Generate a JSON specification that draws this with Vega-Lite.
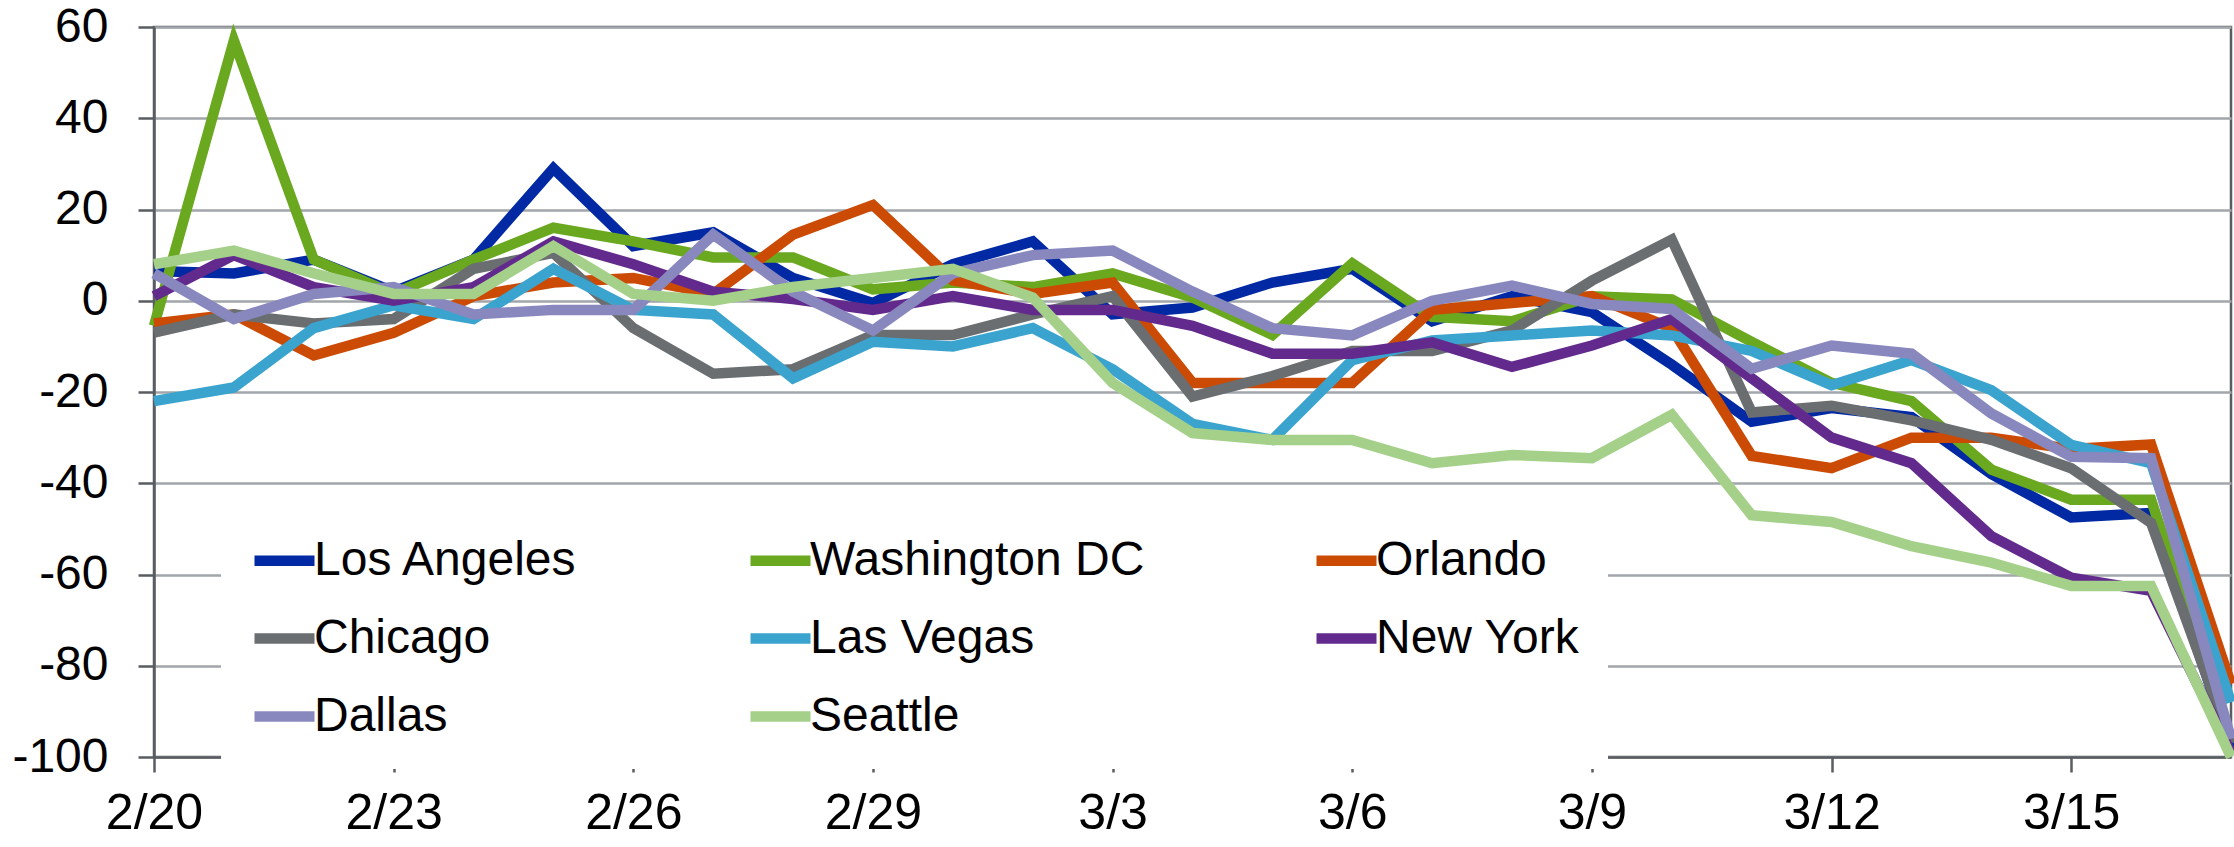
{
  "$schema": "https://vega.github.io/schema/vega-lite/v6.json",
  "width": 2077,
  "height": 730,
  "autosize": {"type": "none"},
  "padding": {"left": 154, "top": 27, "right": 3, "bottom": 90},
  "background": "white",
  "config": {
    "view": {"stroke": "#595D61", "strokeWidth": 2.5},
    "font": "Liberation Sans"
  },
  "datasets": {
    "series": [
      {"date":"2020-02-20","city":"Los Angeles","value":6.5},{"date":"2020-02-21","city":"Los Angeles","value":6},{"date":"2020-02-22","city":"Los Angeles","value":9},{"date":"2020-02-23","city":"Los Angeles","value":2},{"date":"2020-02-24","city":"Los Angeles","value":9},{"date":"2020-02-25","city":"Los Angeles","value":29},{"date":"2020-02-26","city":"Los Angeles","value":12},{"date":"2020-02-27","city":"Los Angeles","value":15},{"date":"2020-02-28","city":"Los Angeles","value":5},{"date":"2020-02-29","city":"Los Angeles","value":-0.5},{"date":"2020-03-01","city":"Los Angeles","value":8},{"date":"2020-03-02","city":"Los Angeles","value":13},{"date":"2020-03-03","city":"Los Angeles","value":-3},{"date":"2020-03-04","city":"Los Angeles","value":-1.5},{"date":"2020-03-05","city":"Los Angeles","value":4},{"date":"2020-03-06","city":"Los Angeles","value":7},{"date":"2020-03-07","city":"Los Angeles","value":-4.5},{"date":"2020-03-08","city":"Los Angeles","value":1},{"date":"2020-03-09","city":"Los Angeles","value":-2.5},{"date":"2020-03-10","city":"Los Angeles","value":-14},{"date":"2020-03-11","city":"Los Angeles","value":-26.5},{"date":"2020-03-12","city":"Los Angeles","value":-23.5},{"date":"2020-03-13","city":"Los Angeles","value":-25.5},{"date":"2020-03-14","city":"Los Angeles","value":-38},{"date":"2020-03-15","city":"Los Angeles","value":-47.5},{"date":"2020-03-16","city":"Los Angeles","value":-46.5},{"date":"2020-03-17","city":"Los Angeles","value":-98},
      {"date":"2020-02-20","city":"Washington DC","value":-5.5},{"date":"2020-02-21","city":"Washington DC","value":57},{"date":"2020-02-22","city":"Washington DC","value":9},{"date":"2020-02-23","city":"Washington DC","value":1.5},{"date":"2020-02-24","city":"Washington DC","value":9},{"date":"2020-02-25","city":"Washington DC","value":16},{"date":"2020-02-26","city":"Washington DC","value":13},{"date":"2020-02-27","city":"Washington DC","value":9.5},{"date":"2020-02-28","city":"Washington DC","value":9.5},{"date":"2020-02-29","city":"Washington DC","value":2.5},{"date":"2020-03-01","city":"Washington DC","value":4},{"date":"2020-03-02","city":"Washington DC","value":3},{"date":"2020-03-03","city":"Washington DC","value":6},{"date":"2020-03-04","city":"Washington DC","value":0.7},{"date":"2020-03-05","city":"Washington DC","value":-7.5},{"date":"2020-03-06","city":"Washington DC","value":8.2},{"date":"2020-03-07","city":"Washington DC","value":-3.5},{"date":"2020-03-08","city":"Washington DC","value":-4.5},{"date":"2020-03-09","city":"Washington DC","value":1},{"date":"2020-03-10","city":"Washington DC","value":0.3},{"date":"2020-03-11","city":"Washington DC","value":-9},{"date":"2020-03-12","city":"Washington DC","value":-18},{"date":"2020-03-13","city":"Washington DC","value":-22},{"date":"2020-03-14","city":"Washington DC","value":-37},{"date":"2020-03-15","city":"Washington DC","value":-43.6},{"date":"2020-03-16","city":"Washington DC","value":-43.6},{"date":"2020-03-17","city":"Washington DC","value":-97},
      {"date":"2020-02-20","city":"Orlando","value":-5},{"date":"2020-02-21","city":"Orlando","value":-3},{"date":"2020-02-22","city":"Orlando","value":-12},{"date":"2020-02-23","city":"Orlando","value":-7},{"date":"2020-02-24","city":"Orlando","value":1},{"date":"2020-02-25","city":"Orlando","value":4},{"date":"2020-02-26","city":"Orlando","value":5},{"date":"2020-02-27","city":"Orlando","value":1.5},{"date":"2020-02-28","city":"Orlando","value":14.5},{"date":"2020-02-29","city":"Orlando","value":21},{"date":"2020-03-01","city":"Orlando","value":4.5},{"date":"2020-03-02","city":"Orlando","value":1.5},{"date":"2020-03-03","city":"Orlando","value":4},{"date":"2020-03-04","city":"Orlando","value":-18},{"date":"2020-03-05","city":"Orlando","value":-18},{"date":"2020-03-06","city":"Orlando","value":-18},{"date":"2020-03-07","city":"Orlando","value":-2},{"date":"2020-03-08","city":"Orlando","value":-0.5},{"date":"2020-03-09","city":"Orlando","value":1},{"date":"2020-03-10","city":"Orlando","value":-6},{"date":"2020-03-11","city":"Orlando","value":-34},{"date":"2020-03-12","city":"Orlando","value":-36.7},{"date":"2020-03-13","city":"Orlando","value":-30},{"date":"2020-03-14","city":"Orlando","value":-30},{"date":"2020-03-15","city":"Orlando","value":-32.5},{"date":"2020-03-16","city":"Orlando","value":-31.5},{"date":"2020-03-17","city":"Orlando","value":-84},
      {"date":"2020-02-20","city":"Chicago","value":-7},{"date":"2020-02-21","city":"Chicago","value":-3},{"date":"2020-02-22","city":"Chicago","value":-5},{"date":"2020-02-23","city":"Chicago","value":-4},{"date":"2020-02-24","city":"Chicago","value":7},{"date":"2020-02-25","city":"Chicago","value":10.5},{"date":"2020-02-26","city":"Chicago","value":-6},{"date":"2020-02-27","city":"Chicago","value":-16},{"date":"2020-02-28","city":"Chicago","value":-15},{"date":"2020-02-29","city":"Chicago","value":-7.5},{"date":"2020-03-01","city":"Chicago","value":-7.5},{"date":"2020-03-02","city":"Chicago","value":-3},{"date":"2020-03-03","city":"Chicago","value":1},{"date":"2020-03-04","city":"Chicago","value":-21},{"date":"2020-03-05","city":"Chicago","value":-16.5},{"date":"2020-03-06","city":"Chicago","value":-11},{"date":"2020-03-07","city":"Chicago","value":-11},{"date":"2020-03-08","city":"Chicago","value":-6.5},{"date":"2020-03-09","city":"Chicago","value":4.4},{"date":"2020-03-10","city":"Chicago","value":13.4},{"date":"2020-03-11","city":"Chicago","value":-24.5},{"date":"2020-03-12","city":"Chicago","value":-23},{"date":"2020-03-13","city":"Chicago","value":-26.2},{"date":"2020-03-14","city":"Chicago","value":-30.5},{"date":"2020-03-15","city":"Chicago","value":-36.7},{"date":"2020-03-16","city":"Chicago","value":-48.7},{"date":"2020-03-17","city":"Chicago","value":-97},
      {"date":"2020-02-20","city":"Las Vegas","value":-22},{"date":"2020-02-21","city":"Las Vegas","value":-19},{"date":"2020-02-22","city":"Las Vegas","value":-6},{"date":"2020-02-23","city":"Las Vegas","value":-1},{"date":"2020-02-24","city":"Las Vegas","value":-4},{"date":"2020-02-25","city":"Las Vegas","value":7},{"date":"2020-02-26","city":"Las Vegas","value":-2},{"date":"2020-02-27","city":"Las Vegas","value":-3},{"date":"2020-02-28","city":"Las Vegas","value":-17},{"date":"2020-02-29","city":"Las Vegas","value":-9},{"date":"2020-03-01","city":"Las Vegas","value":-10},{"date":"2020-03-02","city":"Las Vegas","value":-6},{"date":"2020-03-03","city":"Las Vegas","value":-15},{"date":"2020-03-04","city":"Las Vegas","value":-27},{"date":"2020-03-05","city":"Las Vegas","value":-30.5},{"date":"2020-03-06","city":"Las Vegas","value":-13},{"date":"2020-03-07","city":"Las Vegas","value":-8.7},{"date":"2020-03-08","city":"Las Vegas","value":-7.6},{"date":"2020-03-09","city":"Las Vegas","value":-6.5},{"date":"2020-03-10","city":"Las Vegas","value":-7.6},{"date":"2020-03-11","city":"Las Vegas","value":-11},{"date":"2020-03-12","city":"Las Vegas","value":-18.5},{"date":"2020-03-13","city":"Las Vegas","value":-13},{"date":"2020-03-14","city":"Las Vegas","value":-19.6},{"date":"2020-03-15","city":"Las Vegas","value":-31.6},{"date":"2020-03-16","city":"Las Vegas","value":-35.6},{"date":"2020-03-17","city":"Las Vegas","value":-88},
      {"date":"2020-02-20","city":"New York","value":1},{"date":"2020-02-21","city":"New York","value":10},{"date":"2020-02-22","city":"New York","value":3},{"date":"2020-02-23","city":"New York","value":0},{"date":"2020-02-24","city":"New York","value":3},{"date":"2020-02-25","city":"New York","value":13},{"date":"2020-02-26","city":"New York","value":8},{"date":"2020-02-27","city":"New York","value":2},{"date":"2020-02-28","city":"New York","value":0.4},{"date":"2020-02-29","city":"New York","value":-2},{"date":"2020-03-01","city":"New York","value":1},{"date":"2020-03-02","city":"New York","value":-2},{"date":"2020-03-03","city":"New York","value":-2},{"date":"2020-03-04","city":"New York","value":-5.5},{"date":"2020-03-05","city":"New York","value":-11.6},{"date":"2020-03-06","city":"New York","value":-11.6},{"date":"2020-03-07","city":"New York","value":-9.1},{"date":"2020-03-08","city":"New York","value":-14.5},{"date":"2020-03-09","city":"New York","value":-9.8},{"date":"2020-03-10","city":"New York","value":-4},{"date":"2020-03-11","city":"New York","value":-17},{"date":"2020-03-12","city":"New York","value":-30},{"date":"2020-03-13","city":"New York","value":-35.6},{"date":"2020-03-14","city":"New York","value":-51.6},{"date":"2020-03-15","city":"New York","value":-60.7},{"date":"2020-03-16","city":"New York","value":-63.6},{"date":"2020-03-17","city":"New York","value":-99},
      {"date":"2020-02-20","city":"Dallas","value":6},{"date":"2020-02-21","city":"Dallas","value":-4},{"date":"2020-02-22","city":"Dallas","value":1.5},{"date":"2020-02-23","city":"Dallas","value":3},{"date":"2020-02-24","city":"Dallas","value":-3},{"date":"2020-02-25","city":"Dallas","value":-2},{"date":"2020-02-26","city":"Dallas","value":-2},{"date":"2020-02-27","city":"Dallas","value":14.5},{"date":"2020-02-28","city":"Dallas","value":2},{"date":"2020-02-29","city":"Dallas","value":-6.5},{"date":"2020-03-01","city":"Dallas","value":6},{"date":"2020-03-02","city":"Dallas","value":10},{"date":"2020-03-03","city":"Dallas","value":11},{"date":"2020-03-04","city":"Dallas","value":2},{"date":"2020-03-05","city":"Dallas","value":-6},{"date":"2020-03-06","city":"Dallas","value":-7.6},{"date":"2020-03-07","city":"Dallas","value":0},{"date":"2020-03-08","city":"Dallas","value":3.3},{"date":"2020-03-09","city":"Dallas","value":-0.7},{"date":"2020-03-10","city":"Dallas","value":-1.8},{"date":"2020-03-11","city":"Dallas","value":-14.9},{"date":"2020-03-12","city":"Dallas","value":-9.8},{"date":"2020-03-13","city":"Dallas","value":-11.6},{"date":"2020-03-14","city":"Dallas","value":-24.7},{"date":"2020-03-15","city":"Dallas","value":-34.2},{"date":"2020-03-16","city":"Dallas","value":-34.5},{"date":"2020-03-17","city":"Dallas","value":-96},
      {"date":"2020-02-20","city":"Seattle","value":8},{"date":"2020-02-21","city":"Seattle","value":11},{"date":"2020-02-22","city":"Seattle","value":6},{"date":"2020-02-23","city":"Seattle","value":1.5},{"date":"2020-02-24","city":"Seattle","value":1.5},{"date":"2020-02-25","city":"Seattle","value":12},{"date":"2020-02-26","city":"Seattle","value":1.5},{"date":"2020-02-27","city":"Seattle","value":0},{"date":"2020-02-28","city":"Seattle","value":3},{"date":"2020-02-29","city":"Seattle","value":5},{"date":"2020-03-01","city":"Seattle","value":7},{"date":"2020-03-02","city":"Seattle","value":0.7},{"date":"2020-03-03","city":"Seattle","value":-18},{"date":"2020-03-04","city":"Seattle","value":-29},{"date":"2020-03-05","city":"Seattle","value":-30.5},{"date":"2020-03-06","city":"Seattle","value":-30.5},{"date":"2020-03-07","city":"Seattle","value":-35.6},{"date":"2020-03-08","city":"Seattle","value":-33.8},{"date":"2020-03-09","city":"Seattle","value":-34.5},{"date":"2020-03-10","city":"Seattle","value":-25},{"date":"2020-03-11","city":"Seattle","value":-47},{"date":"2020-03-12","city":"Seattle","value":-48.5},{"date":"2020-03-13","city":"Seattle","value":-53.8},{"date":"2020-03-14","city":"Seattle","value":-57.4},{"date":"2020-03-15","city":"Seattle","value":-62.5},{"date":"2020-03-16","city":"Seattle","value":-62.5},{"date":"2020-03-17","city":"Seattle","value":-100}
    ]
  },
  "data": {"name": "series"},
  "mark": {"type": "line", "strokeWidth": 10.5, "strokeJoin": "miter", "strokeMiterLimit": 10, "clip": false},
  "encoding": {
    "x": {
      "field": "date",
      "type": "temporal",
      "scale": {
        "type": "utc",
        "domain": [{"year": 2020, "month": 2, "date": 20, "utc": true}, {"year": 2020, "month": 3, "date": 17, "utc": true}],
        "nice": false
      },
      "axis": {
        "title": null,
        "grid": false,
        "format": "%-m/%-d",
        "values": [
          {"year": 2020, "month": 2, "date": 20, "utc": true},
          {"year": 2020, "month": 2, "date": 23, "utc": true},
          {"year": 2020, "month": 2, "date": 26, "utc": true},
          {"year": 2020, "month": 2, "date": 29, "utc": true},
          {"year": 2020, "month": 3, "date": 3, "utc": true},
          {"year": 2020, "month": 3, "date": 6, "utc": true},
          {"year": 2020, "month": 3, "date": 9, "utc": true},
          {"year": 2020, "month": 3, "date": 12, "utc": true},
          {"year": 2020, "month": 3, "date": 15, "utc": true}
        ],
        "labelFont": "Liberation Sans",
        "labelFontSize": 50,
        "labelColor": "black",
        "labelPadding": 16,
        "labelFlush": false,
        "labelOverlap": false,
        "tickSize": 15,
        "tickWidth": 2.5,
        "tickColor": "#595D61",
        "domainColor": "#595D61",
        "domainWidth": 2.5
      }
    },
    "y": {
      "field": "value",
      "type": "quantitative",
      "scale": {"domain": [-100, 60], "nice": false, "zero": false},
      "axis": {
        "title": null,
        "values": [-100, -80, -60, -40, -20, 0, 20, 40, 60],
        "labelExpr": "'' + datum.value",
        "labelFont": "Liberation Sans",
        "labelFontSize": 48,
        "labelColor": "black",
        "labelPadding": 30,
        "labelFlush": false,
        "tickSize": 16,
        "tickWidth": 2.5,
        "tickColor": "#595D61",
        "domainColor": "#595D61",
        "domainWidth": 2.5,
        "grid": true,
        "gridColor": "#A2A6AA",
        "gridWidth": 2.5
      }
    },
    "color": {
      "field": "city",
      "type": "nominal",
      "sort": ["Los Angeles", "Washington DC", "Orlando", "Chicago", "Las Vegas", "New York", "Dallas", "Seattle"],
      "scale": {
        "domain": ["Los Angeles", "Washington DC", "Orlando", "Chicago", "Las Vegas", "New York", "Dallas", "Seattle"],
        "range": ["#0029A3", "#6AA820", "#CB4B05", "#6A6E71", "#3AA3CE", "#632A8D", "#8888BF", "#A4D08A"]
      },
      "legend": {
        "title": null,
        "orient": "none",
        "legendX": 67,
        "legendY": 470,
        "direction": "horizontal",
        "columns": 3,
        "symbolType": "stroke",
        "symbolSize": 3600,
        "symbolStrokeWidth": 10.5,
        "labelFont": "Liberation Sans",
        "labelFontSize": 48,
        "labelColor": "black",
        "labelOffset": -6,
        "labelLimit": 600,
        "rowPadding": 18,
        "columnPadding": 150,
        "fillColor": "white",
        "padding": 28
      }
    }
  }
}
